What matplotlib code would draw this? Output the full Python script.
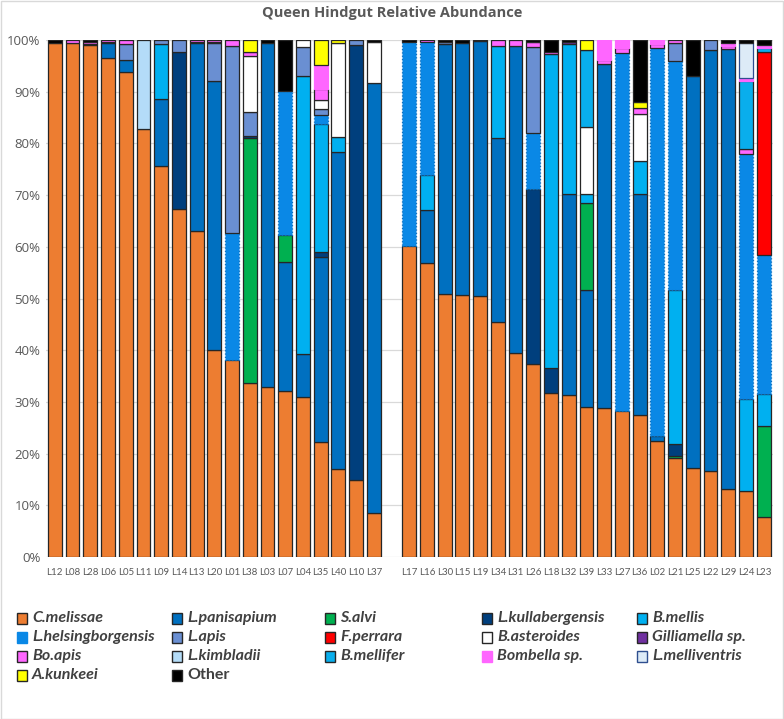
import matplotlib
matplotlib.use("Agg")
import matplotlib.pyplot as plt
from matplotlib.patches import Rectangle
from matplotlib import font_manager
import numpy as np

samples = ["L12", "L08", "L28", "L06", "L05", "L11", "L09", "L14", "L13", "L20",
           "L01", "L38", "L03", "L07", "L04", "L35", "L40", "L10", "L37", "",
           "L17", "L16", "L30", "L15", "L19", "L34", "L31", "L26", "L18", "L32",
           "L39", "L33", "L27", "L36", "L02", "L21", "L25", "L22", "L29", "L24", "L23"]

# values in percent, one entry per sample (gap slot = 0)
c_melissae = [99.5, 99.4, 99.0, 96.6, 93.9, 82.7, 75.7, 67.4, 63.1, 40.0,
              38.1, 33.6, 32.9, 32.2, 31.0, 22.2, 17.0, 14.8, 8.6, 0,
              60.2, 56.9, 50.9, 50.7, 50.5, 45.4, 39.5, 37.3, 31.7, 31.3,
              29.0, 28.8, 28.3, 27.5, 22.5, 19.2, 17.3, 16.7, 13.1, 12.8, 7.8]
l_panisapium = [0, 0, 0, 2.9, 2.2, 0, 12.8, 0, 36.4, 52.0,
                0, 0, 66.6, 24.9, 8.3, 35.9, 61.4, 0, 83.0, 0,
                0, 10.2, 48.3, 48.7, 49.3, 35.6, 59.4, 0, 0, 39.0,
                22.6, 66.5, 0, 42.8, 1.0, 0, 75.7, 81.4, 85.2, 0, 0]
s_alvi = [0, 0, 0, 0, 0, 0, 0, 0, 0, 0,
          0, 47.4, 0, 5.1, 0, 0, 0, 0, 0, 0,
          0, 0, 0, 0, 0, 0, 0, 0, 0, 0,
          16.8, 0, 0, 0, 0, 0.3, 0, 0, 0, 0, 17.6]
l_kullabergensis = [0, 0, 0, 0, 0, 0, 0, 30.2, 0, 0,
                    0, 0.5, 0, 0, 0, 0.8, 0, 84.2, 0, 0,
                    0, 0, 0, 0, 0, 0, 0, 33.9, 4.8, 0,
                    0, 0, 0, 0, 0, 2.3, 0, 0, 0, 0, 0]
b_mellis = [0, 0, 0, 0, 0, 0, 10.7, 0, 0, 0,
            0, 0, 0, 0, 53.8, 24.8, 2.9, 0, 0, 0,
            0, 6.8, 0, 0, 0, 17.9, 0, 0, 60.7, 28.9,
            1.8, 0, 0, 6.2, 0, 29.8, 0, 0, 0, 17.7, 6.1]
l_helsingborgensis = [0, 0, 0, 0, 0, 0, 0, 0, 0, 0,
                      24.5, 0, 0, 28.0, 0, 1.8, 0, 0, 0, 0,
                      39.5, 25.8, 0, 0, 0, 0, 0, 10.9, 0, 0,
                      0, 0, 69.1, 0, 74.9, 44.3, 0, 0, 0, 47.4, 27.0]
l_apis = [0, 0, 0, 0, 3.1, 0, 0.8, 2.4, 0, 7.4,
          36.2, 4.6, 0, 0, 5.6, 1.1, 0, 1.0, 0, 0,
          0, 0, 0.4, 0, 0, 0, 0, 16.6, 0, 0,
          0, 0, 0, 0, 0, 3.6, 0, 1.9, 0, 0, 0]
f_perrara = [0] * 40 + [39.1]
b_asteroides = [0, 0, 0, 0, 0, 0, 0, 0, 0, 0,
                0, 10.9, 0, 0, 1.3, 1.8, 18.1, 0, 8.1, 0,
                0, 0, 0, 0, 0, 0, 0, 0, 0, 0,
                13.0, 0, 0, 9.1, 0, 0, 0, 0, 0, 0, 0]
gilliamella = [0, 0, 0.3, 0.2, 0, 0, 0, 0, 0.2, 0.2,
               0, 0, 0, 0, 0, 0, 0, 0, 0, 0,
               0, 0, 0, 0, 0, 0, 0, 0, 0, 0.4,
               0, 0, 0, 0, 0, 0, 0, 0, 0, 0, 0]
bo_apis = [0, 0.6, 0.4, 0.3, 0.8, 0, 0, 0, 0.3, 0.4,
           1.2, 0.6, 0, 0, 0, 2.2, 0, 0, 0, 0,
           0, 0.3, 0, 0, 0, 1.1, 1.1, 1.0, 0.5, 0,
           0, 0.9, 1.0, 1.2, 0.8, 0.5, 0, 0, 0.6, 1.0, 0]
l_kimbladii = [0, 0, 0, 0, 0, 17.3] + [0] * 35
b_mellifer = [0] * 30 + [14.9, 0, 0, 0, 0, 0, 0, 0, 0, 13.1, 0.8]
bombella = [0, 0, 0, 0, 0, 0, 0, 0, 0, 0,
            0, 0, 0, 0, 0, 4.5, 0, 0, 0, 0,
            0, 0, 0, 0, 0, 0, 0, 0, 0, 0,
            0, 3.8, 1.6, 0, 0.8, 0, 0, 0, 0.6, 0.6, 0.6]
l_melliventris = [0] * 39 + [6.9, 0]
a_kunkeei = [0, 0, 0, 0, 0, 0, 0, 0, 0, 0,
             0, 2.4, 0, 0, 0, 4.9, 0.6, 0, 0, 0,
             0, 0, 0, 0, 0, 0, 0, 0, 0, 0,
             1.9, 0, 0, 1.2, 0, 0, 0, 0, 0, 0, 0]
other = [0.5, 0, 0.3, 0, 0, 0, 0, 0, 0, 0,
         0, 0, 0.5, 9.8, 0, 0, 0, 0, 0.3, 0,
         0.3, 0, 0.4, 0.6, 0.2, 0, 0, 0.3, 2.3, 0.4,
         0, 0, 0, 12.0, 0, 0, 7.0, 0, 0.5, 0.5, 1.0]

series_names = ["C.melissae", "L.panisapium", "S.alvi", "L.kullabergensis", "B.mellis",
                "L.helsingborgensis", "L.apis", "F.perrara", "B.asteroides", "Gilliamella sp.",
                "Bo.apis", "L.kimbladii", "B.mellifer", "Bombella sp.", "L.melliventris",
                "A.kunkeei", "Other"]
series_values = [c_melissae, l_panisapium, s_alvi, l_kullabergensis, b_mellis,
                 l_helsingborgensis, l_apis, f_perrara, b_asteroides, gilliamella,
                 bo_apis, l_kimbladii, b_mellifer, bombella, l_melliventris,
                 a_kunkeei, other]
colors = ["#ED7D31", "#0070C0", "#00B050", "#003F7D", "#00B0F0",
          "#0A88E6", "#6A8FD2", "#FF0000", "#FFFFFF", "#7030A0",
          "#FF66FF", "#B4DCF8", "#09AEEC", "#FF66FF", "#DDEBF7",
          "#FFFF00", "#000000"]
edges = ["#262626"] * 17
edges[5] = "#0A6FC0"
edges[13] = "#FF66FF"
edges[14] = "#2F4F8F"

installed = {f.name for f in font_manager.fontManager.ttflist}
narrow = "Liberation Sans Narrow" if "Liberation Sans Narrow" in installed else "Lato"

W, H = 784, 719
fig = plt.figure(figsize=(W / 100, H / 100), dpi=100)
fig.patch.set_facecolor("white")
fig.add_artist(Rectangle((0.5 / W, 0.5 / H), 1 - 1.5 / W, 1 - 1.5 / H,
                         transform=fig.transFigure, fill=False,
                         edgecolor="#D9D9D9", linewidth=1))

ax_l, ax_r, ax_t, ax_b = 46, 772.5, 40, 557
ax = fig.add_axes([ax_l / W, 1 - ax_b / H, (ax_r - ax_l) / W, (ax_b - ax_t) / H])

x = np.arange(len(samples))
bottom = np.zeros(len(samples))
for i, (name, vals, col, ec) in enumerate(zip(series_names, series_values, colors, edges)):
    v = np.array(vals, dtype=float) / 100.0
    mask = v > 0
    ls = ":" if i == 5 else "-"
    ax.bar(x[mask], v[mask], bottom=bottom[mask], width=0.78, color=col, edgecolor=ec,
           linewidth=0.9, linestyle=ls, zorder=3)
    bottom += v

ax.set_xlim(-0.5, len(samples) - 0.5)
ax.set_ylim(0, 1)
ax.set_yticks(np.arange(0, 1.01, 0.1))
ax.set_yticklabels([f"{int(round(t * 100))}%" for t in np.arange(0, 1.01, 0.1)],
                   fontsize=9.5, color="#595959", family=["Open Sans", "DejaVu Sans"])
ax.set_xticks(x)
ax.set_xticklabels(samples, fontsize=7, color="#595959", family=[narrow, "DejaVu Sans"])
ax.tick_params(axis="both", length=0)
ax.tick_params(axis="x", pad=8)
ax.tick_params(axis="y", pad=4)
ax.grid(axis="y", color="#D9D9D9", linewidth=0.9, zorder=0)
for s in ax.spines.values():
    s.set_visible(False)

fig.text(392 / W, 1 - 13 / H, "Queen Hindgut Relative Abundance", ha="center", va="center",
         fontsize=10.5, fontweight="bold", color="#595959", family=["Open Sans", "DejaVu Sans"])

# legend, 5 columns, row-major order
col_x = [17, 172, 325, 482, 637]
row_y = [618, 637, 656, 675]
for i, name in enumerate(series_names):
    r, c = divmod(i, 5)
    mx, my = col_x[c], row_y[r]
    ec = colors[i] if i in (5, 13) else edges[i]
    fig.add_artist(Rectangle((mx / W, 1 - (my + 5.5) / H), 10 / W, 11 / H,
                             transform=fig.transFigure, facecolor=colors[i],
                             edgecolor=ec, linewidth=1.0))
    style = "normal" if name == "Other" else "italic"
    fig.text((mx + 15) / W, 1 - my / H, name, ha="left", va="center",
             fontsize=11.5, fontweight="bold", style=style, color="#404040",
             family=[narrow, "DejaVu Sans"])

fig.savefig("out.png", dpi=100, facecolor="white")
